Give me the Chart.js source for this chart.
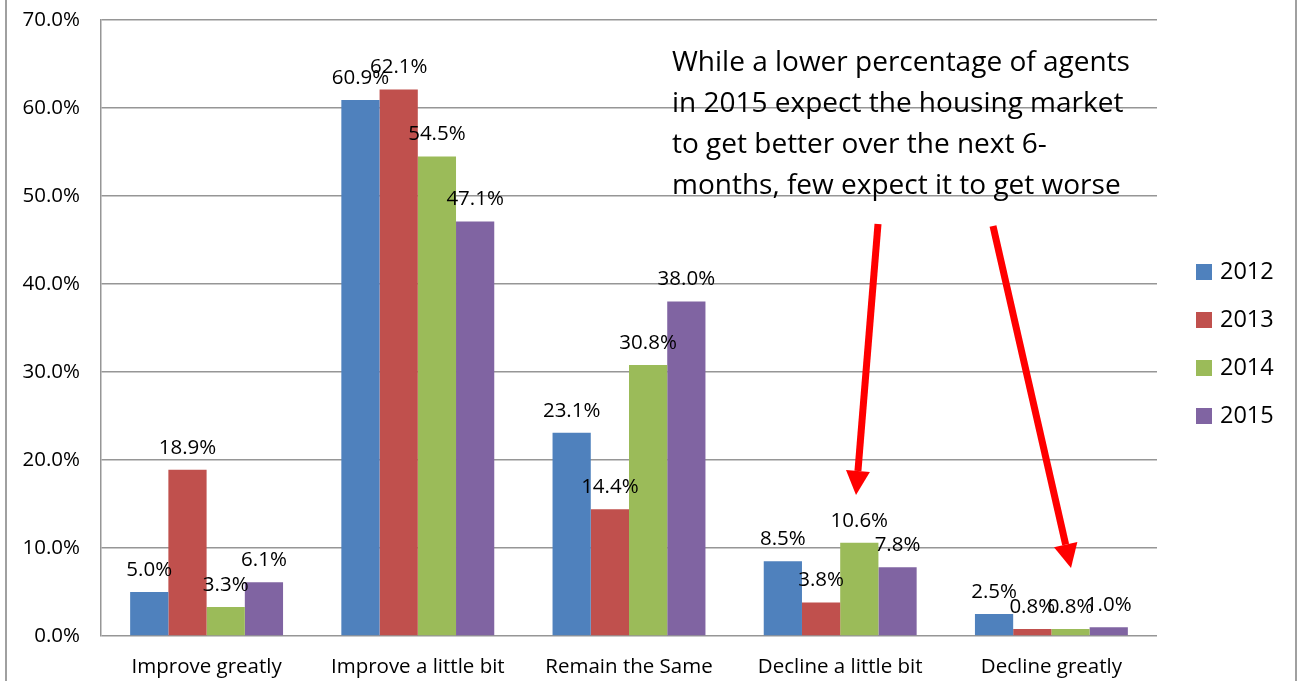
<!DOCTYPE html>
<html lang="en">
<head>
  <meta charset="UTF-8">
  <title>Housing market expectations</title>
  <script src="https://cdn.jsdelivr.net/npm/chart.js"></script>
  <style>
    body {
      margin: 0;
      background: #fff;
    }
    #wrap {
      width: 1301px;
      height: 681px;
    }
  </style>
</head>
<body>
  <div id="wrap">
    <canvas id="outlookChart" width="1301" height="681"></canvas>
  </div>

  <script>
    // data
    const categories = ['Improve greatly', 'Improve a little bit', 'Remain the Same', 'Decline a little bit', 'Decline greatly'];
    const years = ['2012', '2013', '2014', '2015'];
    const values2012 = [5.0, 60.9, 23.1, 8.5, 2.5];
    const values2013 = [18.9, 62.1, 14.4, 3.8, 0.8];
    const values2014 = [3.3, 54.5, 30.8, 10.6, 0.8];
    const values2015 = [6.1, 47.1, 38.0, 7.8, 1.0];
    const yTicks = [0, 10, 20, 30, 40, 50, 60, 70];
    const noteLines = [
      'While a lower percentage of agents',
      'in 2015 expect the housing market',
      'to get better over the next 6-',
      'months, few expect it to get worse'
    ];

    const colors = ['#4F81BD', '#C0504D', '#9BBB59', '#8064A2'];
    const gridColor = '#969696';
    const font = '"Open Sans", sans-serif';

    // value labels above each bar
    const barLabels = {
      id: 'barLabels',
      afterDatasetsDraw(chart) {
        const ctx = chart.ctx;
        ctx.save();
        ctx.font = '20.5px ' + font;
        ctx.fillStyle = '#000';
        ctx.textAlign = 'center';
        ctx.textBaseline = 'middle';
        chart.data.datasets.forEach((ds, i) => {
          chart.getDatasetMeta(i).data.forEach((bar, j) => {
            ctx.fillText(ds.data[j].toFixed(1) + '%', bar.x, bar.y - 22);
          });
        });
        ctx.restore();
      }
    };

    // legend, note text, arrows and outer frame
    const extras = {
      id: 'extras',
      afterDraw(chart) {
        const ctx = chart.ctx;
        ctx.save();

        // outer frame sides
        ctx.strokeStyle = '#a0a0a0';
        ctx.lineWidth = 2;
        ctx.beginPath();
        ctx.moveTo(6, 0); ctx.lineTo(6, 681);
        ctx.moveTo(1296, 0); ctx.lineTo(1296, 681);
        ctx.stroke();

        // legend
        ctx.font = '23.5px ' + font;
        ctx.textBaseline = 'middle';
        ctx.textAlign = 'left';
        chart.data.datasets.forEach((ds, i) => {
          const cy = 272 + i * 48;
          ctx.fillStyle = ds.backgroundColor;
          ctx.fillRect(1196, cy - 8, 16, 16);
          ctx.fillStyle = '#000';
          ctx.fillText(ds.label, 1220, cy);
        });

        // note
        ctx.font = '28px ' + font;
        ctx.textBaseline = 'alphabetic';
        noteLines.forEach((line, i) => {
          ctx.fillText(line, 672, 71 + i * 41);
        });

        // arrows
        const arrow = (x1, y1, x2, y2) => {
          const ang = Math.atan2(y2 - y1, x2 - x1);
          const headLen = 24, headW = 12;
          const bx = x2 - headLen * Math.cos(ang);
          const by = y2 - headLen * Math.sin(ang);
          ctx.strokeStyle = '#FF0000';
          ctx.fillStyle = '#FF0000';
          ctx.lineWidth = 7;
          ctx.beginPath();
          ctx.moveTo(x1, y1);
          ctx.lineTo(bx, by);
          ctx.stroke();
          ctx.beginPath();
          ctx.moveTo(x2, y2);
          ctx.lineTo(bx + headW * Math.sin(ang), by - headW * Math.cos(ang));
          ctx.lineTo(bx - headW * Math.sin(ang), by + headW * Math.cos(ang));
          ctx.closePath();
          ctx.fill();
        };
        arrow(878, 224, 856, 495);
        arrow(993, 226, 1071, 568);

        ctx.restore();
      }
    };

    const seriesValues = [values2012, values2013, values2014, values2015];

    new Chart(document.getElementById('outlookChart'), {
      type: 'bar',
      data: {
        labels: categories,
        datasets: years.map((y, i) => ({
          label: y,
          data: seriesValues[i],
          backgroundColor: colors[i],
          borderWidth: 0,
          categoryPercentage: 0.724,
          barPercentage: 1
        }))
      },
      options: {
        responsive: false,
        animation: false,
        layout: {
          padding: { left: 0, right: 144, top: 20, bottom: 0 }
        },
        plugins: {
          legend: { display: false },
          tooltip: { enabled: false }
        },
        scales: {
          x: {
            grid: { display: false, drawTicks: false },
            border: { display: false },
            ticks: {
              color: '#000',
              padding: 19,
              font: { family: font, size: 20.5 }
            },
            afterFit(scale) { scale.height = 45; }
          },
          y: {
            min: 0,
            max: 70,
            afterBuildTicks(scale) {
              scale.ticks = yTicks.map(v => ({ value: v }));
            },
            grid: { color: gridColor, lineWidth: 1.5, drawTicks: false },
            border: { display: true, color: gridColor, width: 1.5 },
            ticks: {
              color: '#000',
              padding: 21,
              font: { family: font, size: 20.5 },
              callback: v => v.toFixed(1) + '%'
            },
            afterFit(scale) {
              scale.width = 101;
              scale.paddingTop = 0;
              scale.paddingBottom = 0;
            }
          }
        }
      },
      plugins: [barLabels, extras]
    });
  </script>
</body>
</html>
